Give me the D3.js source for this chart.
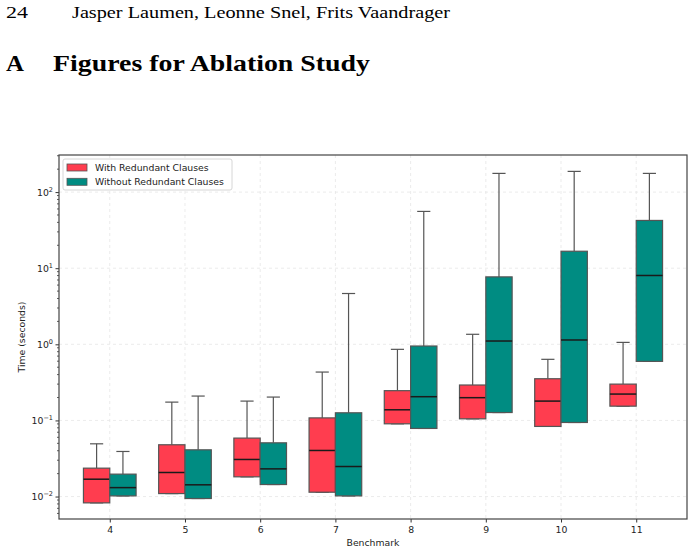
<!DOCTYPE html>
<html>
<head>
<meta charset="utf-8">
<script src="https://cdn.jsdelivr.net/npm/d3@7"></script>
<style>
  body { margin: 0; background: #fff; }
  svg { display: block; }
</style>
</head>
<body>
<svg class="chart" width="694" height="553"></svg>
<script>
// benchmark ids on the x axis
var benchmarks = [4, 5, 6, 7, 8, 9, 10, 11];

// with redundant clauses: whisker low, q1, median, q3, whisker high
var withLo  = [0.00826, 0.01094, 0.01816, 0.0114, 0.0903, 0.105, 0.0834, 0.154];
var withQ1  = [0.00826, 0.01094, 0.01816, 0.0114, 0.0903, 0.105, 0.0834, 0.154];
var withMed = [0.0169, 0.0207, 0.0307, 0.0403, 0.138, 0.199, 0.1795, 0.222];
var withQ3  = [0.0236, 0.0479, 0.0586, 0.108, 0.246, 0.292, 0.353, 0.30];
var withHi  = [0.0493, 0.174, 0.1795, 0.432, 0.859, 1.354, 0.635, 1.06];

// without redundant clauses
var withoutLo  = [0.0102, 0.00942, 0.01439, 0.0102, 0.0785, 0.127, 0.094, 0.597];
var withoutQ1  = [0.0102, 0.00942, 0.01439, 0.0102, 0.0785, 0.127, 0.094, 0.597];
var withoutMed = [0.0131, 0.01426, 0.0231, 0.0248, 0.205, 1.105, 1.14, 8.02];
var withoutQ3  = [0.0197, 0.0411, 0.0508, 0.126, 0.95, 7.69, 16.7, 42.4];
var withoutHi  = [0.0391, 0.209, 0.2027, 4.65, 55.7, 176, 187, 176];

var seriesNames = ["With Redundant Clauses", "Without Redundant Clauses"];
var yTickValues = [0.01, 0.1, 1, 10, 100];
var yTickExps = ["\u22122", "\u22121", "0", "1", "2"];

var colors = ["#ff3d4f", "#008c82"];

var svg = d3.select(".chart");
var serif = "'Liberation Serif', 'DejaVu Serif', serif";

// page header text (stretched to the width of the original typesetting)
svg.append("text")
    .attr("x", 6).attr("y", 18)
    .style("font-family", serif).style("font-size", "17px")
    .attr("textLength", 22).attr("lengthAdjust", "spacingAndGlyphs")
    .text("24");
svg.append("text")
    .attr("x", 72).attr("y", 18)
    .style("font-family", serif).style("font-size", "17.5px")
    .attr("textLength", 378).attr("lengthAdjust", "spacingAndGlyphs")
    .text("Jasper Laumen, Leonne Snel, Frits Vaandrager");
svg.append("text")
    .attr("x", 6).attr("y", 71)
    .style("font-family", serif).style("font-size", "24px").style("font-weight", "bold")
    .attr("textLength", 18).attr("lengthAdjust", "spacingAndGlyphs")
    .text("A");
svg.append("text")
    .attr("x", 53).attr("y", 71)
    .style("font-family", serif).style("font-size", "24px").style("font-weight", "bold")
    .attr("textLength", 317).attr("lengthAdjust", "spacingAndGlyphs")
    .text("Figures for Ablation Study");

// plot area
var margin = {top: 155, left: 59, right: 7, bottom: 34},
    width = 694 - margin.left - margin.right,
    height = 553 - margin.top - margin.bottom;

var g = svg.append("g")
    .attr("transform", "translate(" + margin.left + "," + margin.top + ")");

var x = d3.scaleLinear().domain([3.325, 11.675]).range([0, width]);
var y = d3.scaleLog().domain([0.00507, 307]).range([height, 0]);

var font = "'DejaVu Sans', sans-serif";
var fs = "9.3px";

// grid
g.selectAll(".gx").data(benchmarks).enter().append("line")
    .attr("x1", function(d) { return x(d); })
    .attr("x2", function(d) { return x(d); })
    .attr("y1", 0).attr("y2", height)
    .attr("stroke", "#e6e6e6").attr("stroke-width", 0.8)
    .attr("stroke-dasharray", "3,3");
g.selectAll(".gy").data(yTickValues).enter().append("line")
    .attr("x1", 0).attr("x2", width)
    .attr("y1", function(d) { return y(d); })
    .attr("y2", function(d) { return y(d); })
    .attr("stroke", "#e6e6e6").attr("stroke-width", 0.8)
    .attr("stroke-dasharray", "3,3");

// boxes
var boxW = 0.35;
var groups = [
    {lo: withLo, q1: withQ1, med: withMed, q3: withQ3, hi: withHi, off: -boxW / 2, color: colors[0]},
    {lo: withoutLo, q1: withoutQ1, med: withoutMed, q3: withoutQ3, hi: withoutHi, off: boxW / 2, color: colors[1]}
];

groups.forEach(function(s) {
    benchmarks.forEach(function(b, i) {
        var cx = x(b + s.off),
            x0 = x(b + s.off - boxW / 2),
            x1 = x(b + s.off + boxW / 2),
            capW = (x1 - x0) / 2;
        // upper whisker + cap
        g.append("line")
            .attr("x1", cx).attr("x2", cx)
            .attr("y1", y(s.q3[i])).attr("y2", y(s.hi[i]))
            .attr("stroke", "#555").attr("stroke-width", 1.2);
        g.append("line")
            .attr("x1", cx - capW / 2).attr("x2", cx + capW / 2)
            .attr("y1", y(s.hi[i])).attr("y2", y(s.hi[i]))
            .attr("stroke", "#555").attr("stroke-width", 1.2);
        // lower whisker + cap
        g.append("line")
            .attr("x1", cx).attr("x2", cx)
            .attr("y1", y(s.q1[i])).attr("y2", y(s.lo[i]))
            .attr("stroke", "#555").attr("stroke-width", 1.2);
        g.append("line")
            .attr("x1", cx - capW / 2).attr("x2", cx + capW / 2)
            .attr("y1", y(s.lo[i])).attr("y2", y(s.lo[i]))
            .attr("stroke", "#555").attr("stroke-width", 1.2);
        // box
        g.append("rect")
            .attr("x", x0).attr("width", x1 - x0)
            .attr("y", y(s.q3[i])).attr("height", y(s.q1[i]) - y(s.q3[i]))
            .attr("fill", s.color)
            .attr("stroke", "#555").attr("stroke-width", 1.2);
        // median
        g.append("line")
            .attr("x1", x0).attr("x2", x1)
            .attr("y1", y(s.med[i])).attr("y2", y(s.med[i]))
            .attr("stroke", "#1a1a1a").attr("stroke-width", 1.5);
    });
});

// axes
var xAxis = d3.axisBottom(x).tickValues(benchmarks).tickSize(3.5).tickPadding(4);
var gx = g.append("g").attr("transform", "translate(0," + height + ")").call(xAxis);
gx.select(".domain").remove();
gx.selectAll("text").style("font-family", font).style("font-size", fs).attr("fill", "#222");
gx.selectAll("line").attr("stroke", "#333");

// y minor ticks
var minors = [];
[-3, -2, -1, 0, 1, 2].forEach(function(e) {
    for (var m = 2; m <= 9; m++) {
        var v = m * Math.pow(10, e);
        if (v > y.domain()[0] && v < y.domain()[1]) minors.push(v);
    }
});
g.selectAll(".minor").data(minors).enter().append("line")
    .attr("x1", -2).attr("x2", 0)
    .attr("y1", function(d) { return y(d); })
    .attr("y2", function(d) { return y(d); })
    .attr("stroke", "#333").attr("stroke-width", 0.8);

var yAxis = d3.axisLeft(y).tickValues(yTickValues).tickSize(3.5).tickPadding(3).tickFormat("");
var gy = g.append("g").call(yAxis);
gy.select(".domain").remove();
gy.selectAll("line").attr("stroke", "#333");

var ylab = g.selectAll(".ylab").data(yTickValues).enter().append("text")
    .attr("x", -6)
    .attr("y", function(d) { return y(d) + 3.5; })
    .attr("text-anchor", "end")
    .style("font-family", font).style("font-size", fs)
    .attr("fill", "#222");
ylab.append("tspan").text("10");
ylab.append("tspan")
    .attr("dy", -4)
    .style("font-size", "6.5px")
    .text(function(d, i) { return yTickExps[i]; });

// frame
g.append("rect")
    .attr("width", width).attr("height", height)
    .attr("fill", "none").attr("stroke", "#444").attr("stroke-width", 1.2);

// axis labels
svg.append("text")
    .attr("x", margin.left + width / 2).attr("y", 546)
    .attr("text-anchor", "middle")
    .style("font-family", font).style("font-size", fs)
    .attr("fill", "#222")
    .text("Benchmark");
svg.append("text")
    .attr("transform", "translate(25," + (margin.top + height / 2) + ") rotate(-90)")
    .attr("text-anchor", "middle")
    .style("font-family", font).style("font-size", fs)
    .attr("fill", "#222")
    .text("Time (seconds)");

// legend
var legend = g.append("g").attr("transform", "translate(4,4)");
legend.append("rect")
    .attr("width", 169).attr("height", 31).attr("rx", 2)
    .attr("fill", "#fff").attr("fill-opacity", 0.8)
    .attr("stroke", "#ccc").attr("stroke-width", 0.8);
seriesNames.forEach(function(name, i) {
    legend.append("rect")
        .attr("x", 4).attr("y", 5 + i * 14.3)
        .attr("width", 20).attr("height", 7)
        .attr("fill", colors[i])
        .attr("stroke", "#555").attr("stroke-width", 0.8);
    legend.append("text")
        .attr("x", 32).attr("y", 11.5 + i * 14.3)
        .style("font-family", font).style("font-size", fs)
        .attr("fill", "#222")
        .text(name);
});
</script>
</body>
</html>
